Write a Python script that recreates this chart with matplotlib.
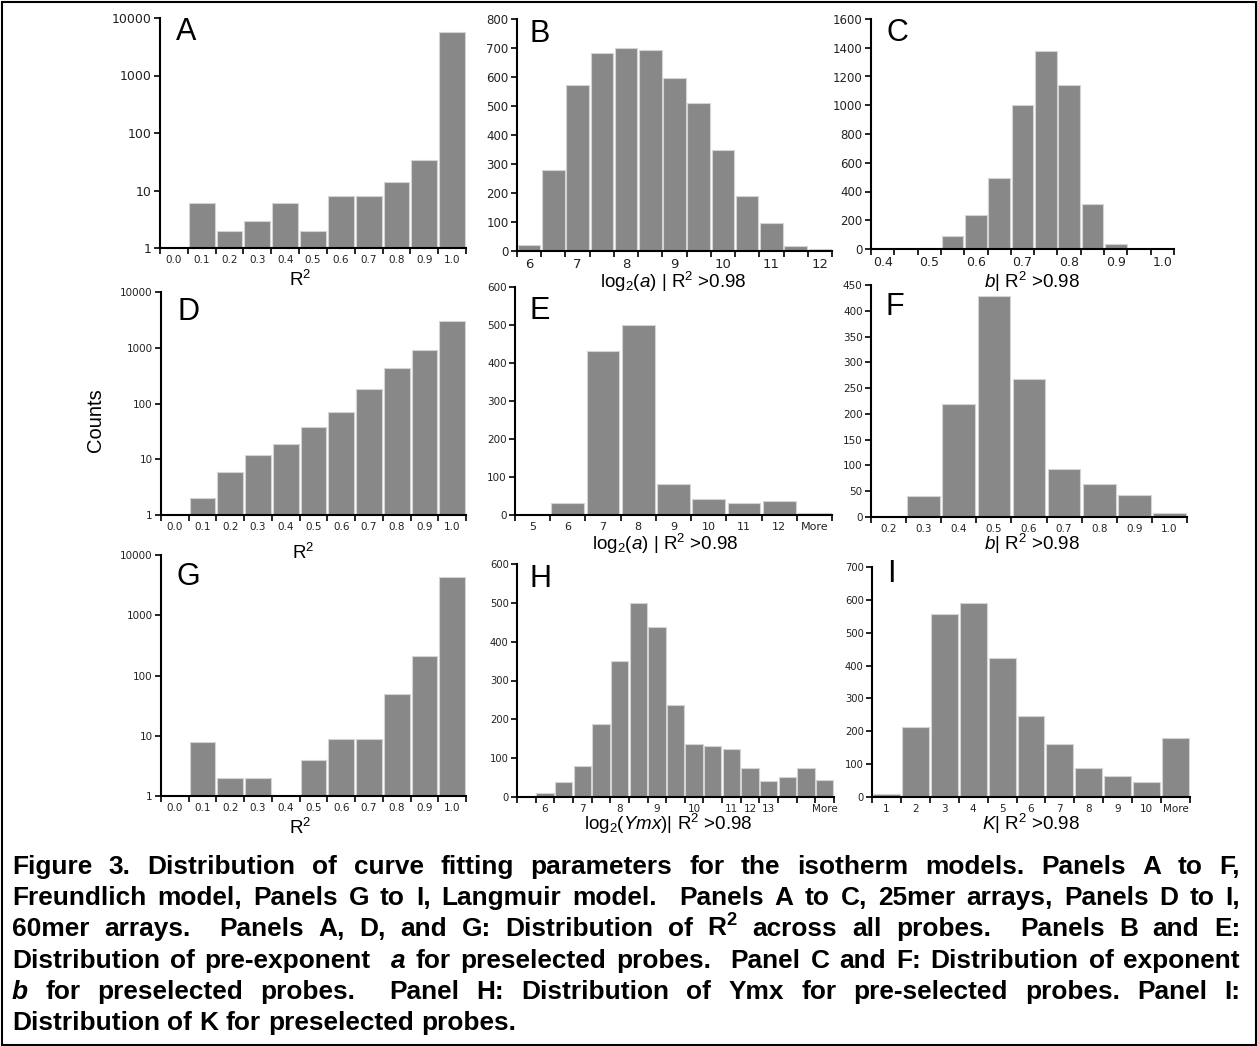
import numpy as np
import matplotlib
matplotlib.use('Agg')
import matplotlib.pyplot as plt
from matplotlib.patches import Rectangle
from matplotlib.ticker import FixedLocator, FixedFormatter, NullLocator

W, H = 1257, 1046
DPI = 100

plt.rcParams['mathtext.fontset'] = 'custom'
plt.rcParams['mathtext.rm'] = 'Liberation Sans'
plt.rcParams['mathtext.it'] = 'Liberation Sans:italic'
plt.rcParams['mathtext.bf'] = 'Liberation Sans:bold'

# ---------------- data ----------------
r2_labels = ['0.0', '0.1', '0.2', '0.3', '0.4', '0.5', '0.6', '0.7', '0.8', '0.9', '1.0']
A_counts = [0, 6, 2, 3, 6, 2, 8, 8, 14, 34, 5700]
D_counts = [0, 2, 6, 12, 19, 38, 70, 185, 440, 920, 3050]
G_counts = [0, 8, 2, 2, 0, 4, 9, 9, 50, 210, 4300]

B_labels = ['6', '', '7', '', '8', '', '9', '', '10', '', '11', '', '12']
B_counts = [22, 278, 572, 684, 701, 692, 597, 510, 350, 188, 97, 17, 6]

C_labels = ['0.4', '', '0.5', '', '0.6', '', '0.7', '', '0.8', '', '0.9', '', '1.0']
C_counts = [0, 0, 10, 88, 234, 495, 1005, 1380, 1140, 310, 37, 0, 0]

E_labels = ['5', '6', '7', '8', '9', '10', '11', '12', 'More']
E_counts = [0, 32, 432, 500, 81, 42, 32, 37, 5]

F_labels = ['0.2', '0.3', '0.4', '0.5', '0.6', '0.7', '0.8', '0.9', '1.0']
F_counts = [0, 40, 220, 428, 268, 94, 64, 43, 8]

H_labels = ['', '6', '', '7', '', '8', '', '9', '', '10', '', '11', '12', '13', '', '', 'More']
H_counts = [0, 10, 39, 80, 188, 351, 499, 437, 237, 136, 131, 123, 75, 42, 52, 75, 45]

I_labels = ['1', '2', '3', '4', '5', '6', '7', '8', '9', '10', 'More']
I_counts = [8, 214, 556, 590, 422, 246, 160, 88, 64, 45, 181]

log_ticks = [1, 10, 100, 1000, 10000]

caption_lines = [
    "Figure 3. Distribution of curve fitting parameters for the isotherm models. Panels A to F,",
    "Freundlich model, Panels G to I, Langmuir model.  Panels A to C, 25mer arrays, Panels D to I,",
    "60mer arrays.  Panels A, D, and G: Distribution of R^2 across all probes.  Panels B and E:",
    "Distribution of pre-exponent  *a* for preselected probes.  Panel C and F: Distribution of exponent",
    "*b* for preselected probes.  Panel H: Distribution of Ymx for pre-selected probes. Panel I:",
    "Distribution of K for preselected probes.",
]

# ---------------- figure ----------------
fig = plt.figure(figsize=(W / DPI, H / DPI), dpi=DPI)
fig.patch.set_facecolor('white')

def fx(x):
    return x / W

def fy(y):
    return 1 - y / H

BAR_FC = '#888888'
BAR_EC = '#d4d4d4'

def panel(box, labels, counts, log, ylim, yticks, letter, letter_xy,
          xlabel, xlabel_xy, ysize, xsize):
    left, right, top, bottom = box
    ax = fig.add_axes([fx(left), fy(bottom), (right - left) / W, (bottom - top) / H])
    n = len(counts)
    xs = np.arange(n)
    if log:
        ax.set_yscale('log')
        sel = [i for i in range(n) if counts[i] > 0]
        ax.bar(xs[sel], [counts[i] for i in sel], width=0.93, bottom=0,
               color=BAR_FC, edgecolor=BAR_EC, linewidth=0.8, zorder=2)
    else:
        ax.bar(xs, counts, width=0.93, color=BAR_FC, edgecolor=BAR_EC,
               linewidth=0.8, zorder=2)
    ax.set_xlim(-0.5, n - 0.5)
    ax.set_ylim(*ylim)
    ax.yaxis.set_major_locator(FixedLocator(yticks))
    ax.yaxis.set_major_formatter(FixedFormatter([str(t) for t in yticks]))
    ax.yaxis.set_minor_locator(NullLocator())
    ax.set_xticks(np.arange(n + 1) - 0.5)
    ax.set_xticklabels([])
    ax.set_xticks(xs, minor=True)
    ax.set_xticklabels(labels, minor=True)
    for s in ('top', 'right'):
        ax.spines[s].set_visible(False)
    for s in ('left', 'bottom'):
        ax.spines[s].set_linewidth(1.5)
        ax.spines[s].set_color('black')
    ax.tick_params(axis='y', which='major', direction='out', length=4, width=1.2,
                   pad=2, labelsize=ysize, labelcolor='#222222')
    ax.tick_params(axis='x', which='major', direction='out', length=4, width=1.2)
    ax.tick_params(axis='x', which='minor', length=0, pad=5, labelsize=xsize,
                   labelcolor='#222222')
    for t in ax.get_yticklabels() + ax.get_xticklabels(minor=True):
        t.set_fontfamily('DejaVu Sans')
    ax.patch.set_alpha(0)
    # panel letter
    lx, ly = letter_xy
    fig.text(fx(lx - 1), fy(ly + 22), letter, fontsize=22, family='Liberation Sans',
             ha='left', va='baseline')
    # x label
    xx, xy = xlabel_xy
    fig.text(fx(xx), fy(xy), xlabel, fontsize=13.5, family='Liberation Sans',
             ha='center', va='baseline')
    return ax

lab_ab = r"log$_2$($\mathit{a}$) | R$^2$ >0.98"
lab_b = r"$\mathit{b}$| R$^2$ >0.98"
lab_r2 = r"R$^2$"

panel((160, 466, 18, 248), r2_labels, A_counts, True, (1, 10000), log_ticks,
      'A', (177, 18), lab_r2, (300, 286), 9, 7.5)
panel((517, 832, 19, 251), B_labels, B_counts, False, (0, 800), list(range(0, 801, 100)),
      'B', (530, 20), lab_ab, (673, 288), 8.5, 9.5)
panel((871, 1174, 19, 249), C_labels, C_counts, False, (0, 1600), list(range(0, 1601, 200)),
      'C', (887, 19), lab_b, (1032, 288), 8.5, 9)
panel((161, 466, 292, 515), r2_labels, D_counts, True, (1, 10000), log_ticks,
      'D', (178, 298), lab_r2, (303, 559), 7.5, 7.5)
panel((515, 832, 287, 515), E_labels, E_counts, False, (0, 600), list(range(0, 601, 100)),
      'E', (530, 297), lab_ab, (665, 550), 7.5, 8)
panel((871, 1187, 285, 517), F_labels, F_counts, False, (0, 450), list(range(0, 451, 50)),
      'F', (887, 293), lab_b, (1032, 550), 7.5, 7.5)
panel((161, 466, 555, 796), r2_labels, G_counts, True, (1, 10000), log_ticks,
      'G', (177, 563), lab_r2, (300, 834), 7.5, 7.5)
panel((517, 834, 564, 797), H_labels, H_counts, False, (0, 600), list(range(0, 601, 100)),
      'H', (530, 565), r"log$_2$($\mathit{Ymx}$)| R$^2$ >0.98", (668, 830), 7.2, 7.5)
panel((872, 1190, 567, 797), I_labels, I_counts, False, (0, 700), list(range(0, 701, 100)),
      'I', (888, 560), r"$\mathit{K}$| R$^2$ >0.98", (1031, 830), 7.2, 7.5)

fig.text(fx(95), fy(420), 'Counts', rotation=90, fontsize=14.5, family='Liberation Sans',
         ha='center', va='center')

# ---------------- caption (justified) ----------------
renderer = fig.canvas.get_renderer()

def token_text(tok):
    if tok == 'R^2':
        return r"R$^{\mathbf{2}}$", 'normal'
    if tok.startswith('*') and tok.endswith('*'):
        return tok[1:-1], 'italic'
    return tok, 'normal'

def measure(s, size, style='normal'):
    t = fig.text(0, 0, s, fontsize=size, family='Liberation Sans', weight='bold',
                 style=style)
    w = t.get_window_extent(renderer).width
    t.remove()
    return w

base = 14
w_last = measure(caption_lines[-1], base)
cap_fs = base * 505.0 / w_last
space_w = measure('x x', cap_fs) - measure('xx', cap_fs)

x_left, x_right = 12, 1240
y0, dy = 874, 31.2
for li, line in enumerate(caption_lines):
    parts = line.split(' ')
    words = []
    gaps = []
    nsp = 0
    for p in parts:
        if p == '':
            nsp += 1
            continue
        if words:
            gaps.append(nsp + 1)
        words.append(p)
        nsp = 0
    items = [token_text(w) for w in words]
    widths = [measure(s, cap_fs, st) for s, st in items]
    last = (li == len(caption_lines) - 1)
    if last or not gaps:
        unit = space_w
    else:
        unit = (x_right - x_left - sum(widths)) / float(sum(gaps))
    x = x_left
    yb = y0 + dy * li
    for k, ((s, st), w) in enumerate(zip(items, widths)):
        fig.text(fx(x), fy(yb), s, fontsize=cap_fs, family='Liberation Sans',
                 weight='bold', style=st, ha='left', va='baseline')
        x += w
        if k < len(gaps):
            x += gaps[k] * unit

# outer frame
fig.add_artist(Rectangle((fx(1.5), fy(1044.5)), (W - 3) / W, (1043) / H,
                         transform=fig.transFigure, fill=False, lw=1.5, ec='black'))

fig.savefig('out.png', dpi=DPI)
